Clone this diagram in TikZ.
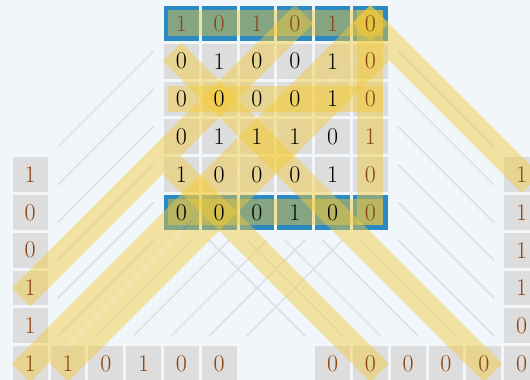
\documentclass[tikz,border=0pt]{standalone}
\usepackage{fontspec}
\definecolor{bgc}{RGB}{241,246,251}
\definecolor{cellg}{RGB}{221,221,221}
\definecolor{cellb}{RGB}{44,138,194}
\definecolor{chk}{RGB}{139,69,19}
\definecolor{bandc}{RGB}{245,202,55}
\definecolor{guidec}{RGB}{223,227,231}
\tikzset{
  cell/.style={rectangle, minimum width=34.8pt, minimum height=34.8pt, inner sep=0pt, fill=cellg},
  bcell/.style={cell, fill=cellb},
  digit/.style={inner sep=0pt, font=\fontsize{24}{28}\selectfont},
  chkd/.style={digit, text=chk},
  bandline/.style={line width=26pt, draw=bandc, opacity=0.45, line cap=rect},
  guideline/.style={line width=1.8pt, draw=guidec},
}
\begin{document}
\begin{tikzpicture}[x=37.8pt, y=-37.8pt]
\fill[bgc] (-4.7989,-0.619) rectangle (9.2222,9.4339);
\useasboundingbox (-4.7989,-0.619) rectangle (9.2222,9.4339);
% guide lines (anti-diagonals, left)
\foreach \d in {0,...,5} \draw[guideline] (-3.27,\d+3.27) -- (-0.73,\d+0.73);
\foreach \d in {6,...,10} \draw[guideline] (\d-8.27,8.27) -- (\d-5.73,5.73);
% guide lines (diagonals, right)
\foreach \e in {0,...,5} \draw[guideline] (5.73,5.73-\e) -- (8.27,8.27-\e);
\foreach \e in {-5,...,-1} \draw[guideline] (\e+5.73,5.73) -- (\e+8.27,8.27);
% cells
\foreach \c in {0,...,5} {\node[bcell] (m-0-\c) at (\c,0) {}; \node[bcell] (m-5-\c) at (\c,5) {};}
\foreach \r in {1,...,4} {\foreach \c in {0,...,5} \node[cell] (m-\r-\c) at (\c,\r) {};}
\foreach \r in {4,...,9} {\node[cell] (L\r) at (-4,\r) {}; \node[cell] (R\r) at (9,\r) {};}
\foreach \k in {1,...,5} \node[cell] (BL-\k) at (\k-4,9) {};
\foreach \c in {4,...,8} \node[cell] (BR-\c) at (\c,9) {};
% highlight bands
\draw[bandline] (m-0-0.center) -- (m-0-5.center);
\draw[bandline] (m-2-0.center) -- (m-2-5.center);
\draw[bandline] (m-5-0.center) -- (m-5-5.center);
\draw[bandline] (m-0-5.center) -- (m-5-5.center);
\draw[bandline] (L7.center) -- (m-0-3.center);
\draw[bandline] (L9.center) -- (m-0-5.center);
\draw[bandline] (BL-1.center) -- (m-1-5.center);
\draw[bandline] (m-0-5.center) -- (R4.center);
\draw[bandline] (m-1-0.center) -- (BR-8.center);
\draw[bandline] (m-4-0.center) -- (BR-5.center);
% digits
\foreach \v [count=\c from 0] in {1,0,1,0,1,0} \node[chkd] (t-0-\c) at (m-0-\c.center) {\v};
\foreach \r/\vals in {1/{0,1,0,0,1},2/{0,0,0,0,1},3/{0,1,1,1,0},4/{1,0,0,0,1},5/{0,0,0,1,0}}
  {\foreach \v [count=\c from 0] in \vals \node[digit] (t-\r-\c) at (m-\r-\c.center) {\v};}
\foreach \v [count=\r from 1] in {0,0,1,0,0} \node[chkd] (t-\r-5) at (m-\r-5.center) {\v};
\foreach \v [count=\r from 4] in {1,0,0,1,1,1} \node[chkd] (tL\r) at (L\r.center) {\v};
\foreach \v [count=\k from 1] in {1,0,1,0,0} \node[chkd] (tBL-\k) at (BL-\k.center) {\v};
\foreach \v [count=\r from 4] in {1,1,1,1,0,0} \node[chkd] (tR\r) at (R\r.center) {\v};
\foreach \v [count=\c from 4] in {0,0,0,0,0} \node[chkd] (tBR-\c) at (BR-\c.center) {\v};
\end{tikzpicture}
\end{document}
